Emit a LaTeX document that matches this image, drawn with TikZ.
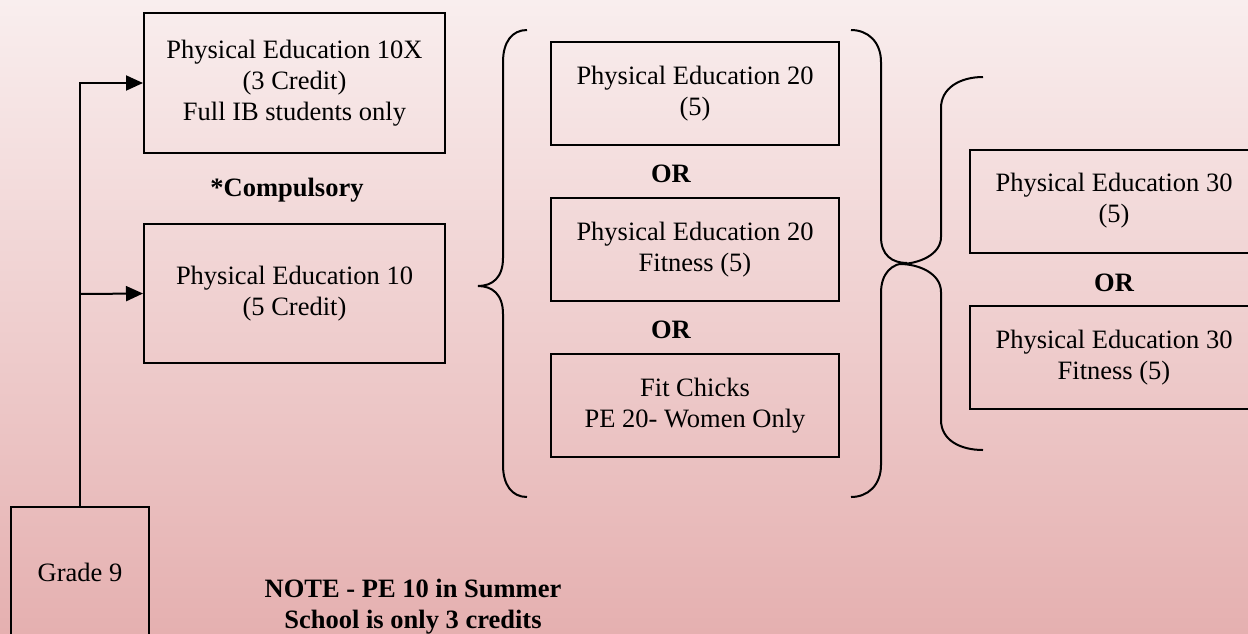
\documentclass[tikz,border=0pt]{standalone}
\usepackage{fontspec}
\setmainfont{Liberation Serif}
\usetikzlibrary{arrows.meta}
\definecolor{bgtop}{RGB}{249,238,238}
\definecolor{bgbot}{RGB}{229,176,176}
\tikzset{
  box/.style={draw, line width=2pt, inner sep=0pt, align=center, minimum width=288pt, minimum height=103pt, font=\fontsize{26.5pt}{31pt}\selectfont},
  bigbox/.style={box, minimum width=301pt, minimum height=140pt},
  lbl/.style={inner sep=0pt, align=center, font=\fontsize{26.5pt}{31pt}\selectfont\bfseries},
  brace/.style={line width=2pt},
  conn/.style={line width=2pt, -{Triangle[length=17pt,width=15pt]}},
}
\begin{document}
\begin{tikzpicture}[x=1pt,y=-1pt]
\useasboundingbox (0,0) rectangle (1248,633);
\shade[top color=bgtop, bottom color=bgbot] (0,0) rectangle (1248,633);

% Grade 9 and PE 10 boxes
\node[box, minimum width=138pt, minimum height=130pt] (g9) at (80,572) {Grade 9};
\node[bigbox] (pe10x) at (294.5,83) {Physical Education 10X\\(3 Credit)\\Full IB students only};
\node[lbl] (comp) at (287,190) {*Compulsory};
\node[bigbox, minimum height=139pt] (pe10) at (294.5,293.5) {Physical Education 10\\(5 Credit)};

\coordinate (j2) at (80,294);
\draw[conn] (g9.north) |- (pe10x.west);
\draw[conn] (j2) -- (pe10.west);

% PE 20 options
\node[box] (pe20) at (695,93.5) {Physical Education 20\\(5)};
\node[lbl] (or1) at (671,174) {OR};
\node[box] (pe20f) at (695,249.5) {Physical Education 20\\Fitness (5)};
\node[lbl] (or2) at (671,330) {OR};
\node[box] (fit) at (695,405.5) {Fit Chicks\\PE 20- Women Only};

% PE 30 options
\node[box] (pe30) at (1114,201) {Physical Education 30\\(5)};
\node[lbl] (or3) at (1114,283) {OR};
\node[box] (pe30f) at (1114,357.5) {Physical Education 30\\Fitness (5)};

% braces
\draw[brace] (527,30) .. controls (512,30) and (503,42) .. (503,62)
  -- (503,258) .. controls (503,278) and (492,286) .. (478,286)
  .. controls (492,286) and (503,294) .. (503,314)
  -- (503,465) .. controls (503,485) and (512,497) .. (527,497);
\draw[brace] (851,30) .. controls (868,30) and (881,42) .. (881,62)
  -- (881,237) .. controls (881,255) and (892,263) .. (907,263)
  .. controls (892,263) and (881,273) .. (881,293)
  -- (881,465) .. controls (881,485) and (868,497) .. (851,497);
\draw[brace] (983,77) .. controls (960,77) and (941,88) .. (941,108)
  -- (941,237) .. controls (941,255) and (918,264) .. (900,264)
  .. controls (918,264) and (941,273) .. (941,292)
  -- (941,420) .. controls (941,440) and (960,450) .. (983,450);

% note
\node[lbl] (note) at (413,607) {NOTE - PE 10 in Summer\\School is only 3 credits};
\end{tikzpicture}
\end{document}
